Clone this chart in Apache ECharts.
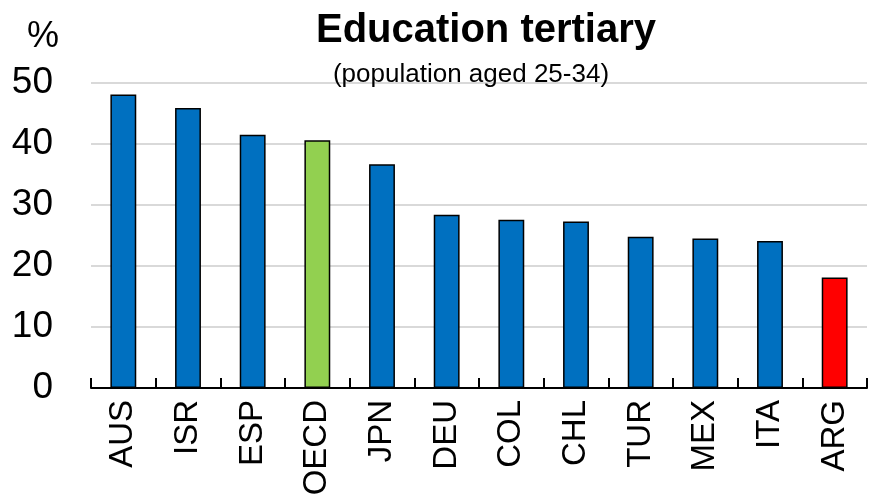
<!DOCTYPE html>
<html>
<head>
<meta charset="utf-8">
<script src="https://cdn.jsdelivr.net/npm/echarts@6/dist/echarts.min.js"></script>
<style>
  html, body { margin: 0; padding: 0; background: #fff; }
  #chart { width: 883px; height: 495px; }
</style>
</head>
<body>
<div id="chart"></div>
<script>
// countries, sorted as in the source
var countries = ['AUS', 'ISR', 'ESP', 'OECD', 'JPN', 'DEU', 'COL', 'CHL', 'TUR', 'MEX', 'ITA', 'ARG'];
var tertiaryShare = [48.1, 45.9, 41.5, 40.6, 36.7, 28.4, 27.6, 27.3, 24.8, 24.5, 24.1, 18.1];
var yTicks = [0, 10, 20, 30, 40, 50];

var BLUE = '#0070C0';
var GREEN = '#92D050';
var RED = '#FF0000';
var font = '"Liberation Sans", Arial, sans-serif';

function barColor(name) {
  if (name === 'OECD') return GREEN;
  if (name === 'ARG') return RED;
  return BLUE;
}

var chart = echarts.init(document.getElementById('chart'));
chart.setOption({
  animation: false,
  title: [
    {
      text: 'Education tertiary',
      left: 481, top: 6,
      textAlign: 'center',
      textStyle: { fontFamily: font, fontWeight: 'bold', fontSize: 40, color: '#000' }
    },
    {
      text: '(population aged 25-34)',
      left: 466, top: 57,
      textAlign: 'center',
      textStyle: { fontFamily: font, fontWeight: 'normal', fontSize: 26, color: '#000' }
    },
    {
      text: '%',
      left: 22, top: 14,
      textStyle: { fontFamily: font, fontWeight: 'normal', fontSize: 36, color: '#000' }
    }
  ],
  grid: { left: 91, right: 16, top: 83, bottom: 107, outerBoundsMode: 'none', containLabel: false },
  xAxis: {
    type: 'category',
    data: countries,
    axisLine: { lineStyle: { color: '#000', width: 2 } },
    axisTick: { show: true, inside: true, length: 10, lineStyle: { color: '#000', width: 2 } },
    axisLabel: {
      rotate: 90,
      margin: 12,
      fontFamily: font,
      fontSize: 33,
      color: '#000'
    }
  },
  yAxis: {
    type: 'value',
    min: yTicks[0],
    max: yTicks[yTicks.length - 1],
    interval: 10,
    axisLine: { show: false },
    axisTick: { show: false },
    axisLabel: { margin: 38, fontFamily: font, fontSize: 37, color: '#000' },
    splitLine: { lineStyle: { color: '#d9d9d9', width: 2 } }
  },
  series: [
    {
      type: 'bar',
      barWidth: '40%',
      data: tertiaryShare.map(function (v, i) {
        return {
          value: v,
          itemStyle: { color: barColor(countries[i]), borderColor: '#000', borderWidth: 1.5 }
        };
      })
    }
  ]
});
</script>
</body>
</html>
